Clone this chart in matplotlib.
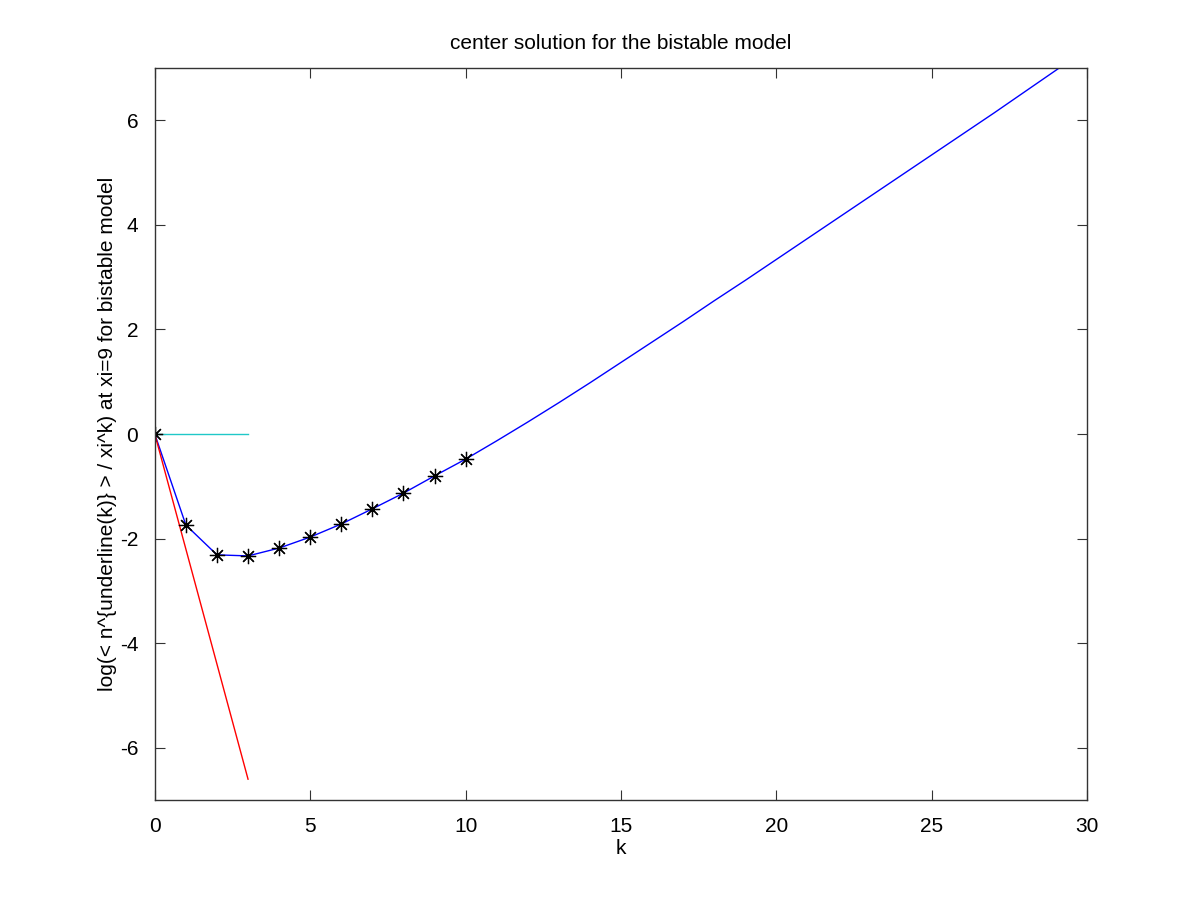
import matplotlib
matplotlib.use('Agg')
import matplotlib.pyplot as plt

plt.rcParams['font.family'] = ['Liberation Sans', 'DejaVu Sans']
plt.rcParams['axes.unicode_minus'] = False

# 星印の点 (k = 0..10)
k_pts = [0, 1, 2, 3, 4, 5, 6, 7, 8, 9, 10]
y_pts = [0.0, -1.74, -2.31, -2.33, -2.18, -1.97, -1.72, -1.43, -1.13, -0.80, -0.48]

# 青い曲線 (k = 10 以降)
k_tail = [11, 12, 13, 14, 15, 16, 17, 18, 19, 20, 21, 22, 23, 24, 25, 26, 27, 28, 29, 30]
y_tail = [-0.13, 0.23, 0.60, 0.98, 1.37, 1.76, 2.15, 2.55, 2.94, 3.34,
          3.74, 4.14, 4.54, 4.94, 5.34, 5.74, 6.14, 6.55, 6.96, 7.37]

# 赤と水色の直線
k_red = [0, 3]
y_red = [0, -6.6]
k_cyan = [0, 3]
y_cyan = [0, 0]

fig = plt.figure(figsize=(12, 9), dpi=100)
ax = fig.add_axes([0.129, 0.111, 0.777, 0.8134])

ax.plot(k_pts + k_tail, y_pts + y_tail, color='blue', lw=1)
ax.plot(k_red, y_red, color='red', lw=1)
ax.plot(k_cyan, y_cyan, color='#20c8c8', lw=1)
ax.plot(k_pts, y_pts, ls='none', marker=(8, 2, 0), color='black',
        markersize=11, mew=0.9)

ax.set_xlim(0, 30)
ax.set_ylim(-7, 7)
ax.set_xticks([0, 5, 10, 15, 20, 25, 30])
ax.set_yticks([-6, -4, -2, 0, 2, 4, 6])
ax.tick_params(direction='in', length=7, top=True, right=True,
               labelsize=15, pad=12, color='#333333')
for s in ax.spines.values():
    s.set_color('#333333')
    s.set_linewidth(1)

ax.set_title('center solution for the bistable model', fontsize=15, pad=14)
ax.set_xlabel('k', fontsize=15, labelpad=2)
ax.set_ylabel('log(< n^{underline(k)} > / xi^k) at xi=9 for bistable model',
              fontsize=15, labelpad=2)

fig.savefig('out.png', dpi=100)
